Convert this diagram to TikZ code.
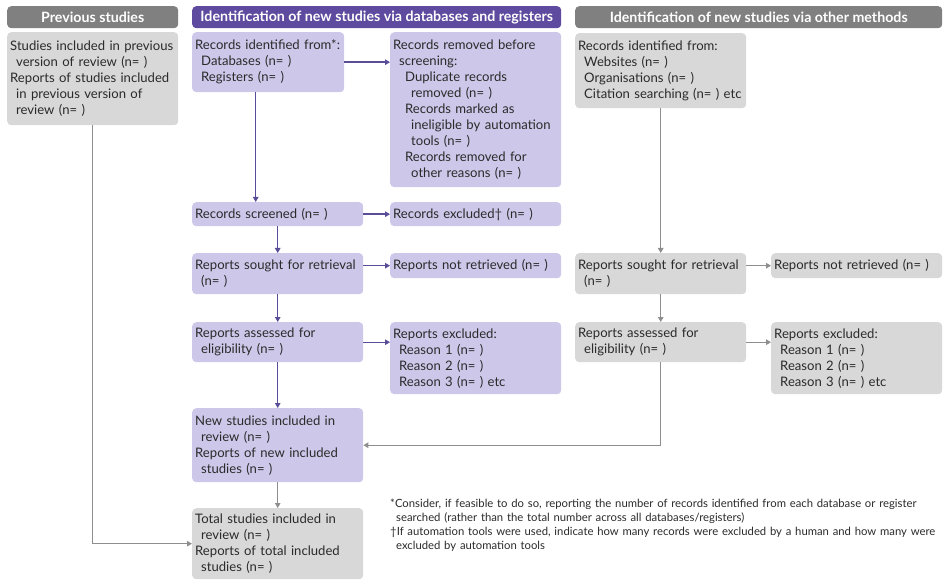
\documentclass[tikz,border=0pt]{standalone}
\usepackage{fontspec}
\setmainfont{Lato}
\usetikzlibrary{arrows.meta,positioning}

\definecolor{hdpurple}{HTML}{5E4A9E}
\definecolor{bxpurple}{HTML}{CDC8EA}
\definecolor{hdgray}{HTML}{808080}
\definecolor{bxgray}{HTML}{D8D8D8}
\definecolor{lnpurple}{HTML}{5A4C99}
\definecolor{lngray}{HTML}{8E8E8E}
\definecolor{txtgray}{HTML}{2A2A2A}

\newcommand{\ind}{\hspace*{6pt}}

\begin{document}
\begin{tikzpicture}
            [x = 1pt, y = -1pt,
             head/.style = {anchor = north west, rounded corners = 4pt, text = white, inner sep = 0pt,
                            minimum height = 22pt, font = \bfseries\fontsize{14.2}{16}\selectfont},
             pbox/.style = {anchor = north west, fill = bxpurple, rounded corners = 4pt, align = left,
                            text width = 165pt, inner xsep = 3pt, inner ysep = 2pt, text = txtgray,
                            font = \fontsize{13.1}{16}\selectfont},
             gbox/.style = {pbox, fill = bxgray},
             parr/.style = {draw = lnpurple, line width = 1.4pt, -{Triangle[length = 5pt, width = 5.5pt]}},
             garr/.style = {parr, draw = lngray}]
            \useasboundingbox (0,0) rectangle (943,580);
            % headers
            \node[head, fill = hdgray, minimum width = 171pt] (hprev) at (7,6) {Previous studies};
            \node[head, fill = hdpurple, minimum width = 369pt] (hdb) at (192,6) {Identification of new studies via databases and registers};
            \node[head, fill = hdgray, minimum width = 367pt] (hoth) at (575,6) {Identification of new studies via other methods};
            % previous studies
            \node[gbox, minimum height = 93pt] (prev) at (7,32) {Studies included in previous\\\ind version of review (n= )\\Reports of studies included\\\ind in previous version of\\\ind review (n= )};
            % databases and registers
            \node[pbox, text width = 146pt, minimum height = 60pt] (ident) at (192,32) {Records identified from*:\\\ind Databases (n= )\\\ind Registers (n= )};
            \node[pbox, minimum height = 155pt] (removed) at (390,32) {Records removed before\\\ind screening:\\\ind\ind Duplicate records\\\ind\ind\ind removed (n= )\\\ind\ind Records marked as\\\ind\ind\ind ineligible by automation\\\ind\ind\ind tools (n= )\\\ind\ind Records removed for\\\ind\ind\ind other reasons (n= )};
            \node[pbox, minimum height = 24pt] (screened) at (192,202) {Records screened (n= )};
            \node[pbox, minimum height = 24pt] (excluded) at (390,202) {Records excluded† (n= )};
            \node[pbox, minimum height = 41pt] (sought) at (192,253) {Reports sought for retrieval\\\ind (n= )};
            \node[pbox, minimum height = 25pt] (notret) at (390,253) {Reports not retrieved (n= )};
            \node[pbox, minimum height = 40pt] (assessed) at (192,322) {Reports assessed for\\\ind eligibility (n= )};
            \node[pbox, minimum height = 72pt] (repexcl) at (390,322) {Reports excluded:\\\ind Reason 1 (n= )\\\ind Reason 2 (n= )\\\ind Reason 3 (n= ) etc};
            \node[pbox, minimum height = 74pt] (newstud) at (192,408) {New studies included in\\\ind review (n= )\\Reports of new included\\\ind studies (n= )};
            \node[gbox, minimum height = 71pt] (total) at (192,508) {Total studies included in\\\ind review (n= )\\Reports of total included\\\ind studies (n= )};
            % other methods
            \node[gbox, minimum height = 75pt] (other) at (575,33) {Records identified from:\\\ind Websites (n= )\\\ind Organisations (n= )\\\ind Citation searching (n= ) etc};
            \node[gbox, minimum height = 41pt] (osought) at (575,253) {Reports sought for retrieval\\\ind (n= )};
            \node[gbox, minimum height = 25pt] (onotret) at (771,253) {Reports not retrieved (n= )};
            \node[gbox, minimum height = 40pt] (oassessed) at (575,322) {Reports assessed for\\\ind eligibility (n= )};
            \node[gbox, minimum height = 72pt] (orepexcl) at (771,322) {Reports excluded:\\\ind Reason 1 (n= )\\\ind Reason 2 (n= )\\\ind Reason 3 (n= ) etc};
            % footnotes
            \node[anchor = north west, align = left, text width = 553pt, inner sep = 0pt, text = txtgray,
                  font = \fontsize{11.3}{14}\selectfont] (notes) at (390,499) {*Consider, if feasible to do so, reporting the number of records identified from each database or register\\\ind searched (rather than the total number across all databases/registers)\\†If automation tools were used, indicate how many records were excluded by a human and how many were\\\ind excluded by automation tools};
            % arrows
            \draw[parr] (ident.east) -- (ident.east -| removed.west);
            \draw[parr] ([xshift = -22pt]screened.north |- ident.south) -- ([xshift = -22pt]screened.north);
            \draw[parr] (screened.east) -- (excluded.west);
            \draw[parr] (screened.south) -- (sought.north);
            \draw[parr] (sought.east |- notret.west) -- (notret.west);
            \draw[parr] (sought.south) -- (assessed.north);
            \draw[parr] (assessed.east) -- (assessed.east -| repexcl.west);
            \draw[parr] (assessed.south) -- (newstud.north);
            \draw[garr] (newstud.south) -- (total.north);
            \draw[garr] (other.south) -- (osought.north);
            \draw[garr] (osought.east |- onotret.west) -- (onotret.west);
            \draw[garr] (osought.south) -- (oassessed.north);
            \draw[garr] (oassessed.east) -- (oassessed.east -| orepexcl.west);
            \draw[garr] (oassessed.south) |- (newstud.east);
            \draw[garr] (prev.south) |- (total.west);
        \end{tikzpicture}
\end{document}
